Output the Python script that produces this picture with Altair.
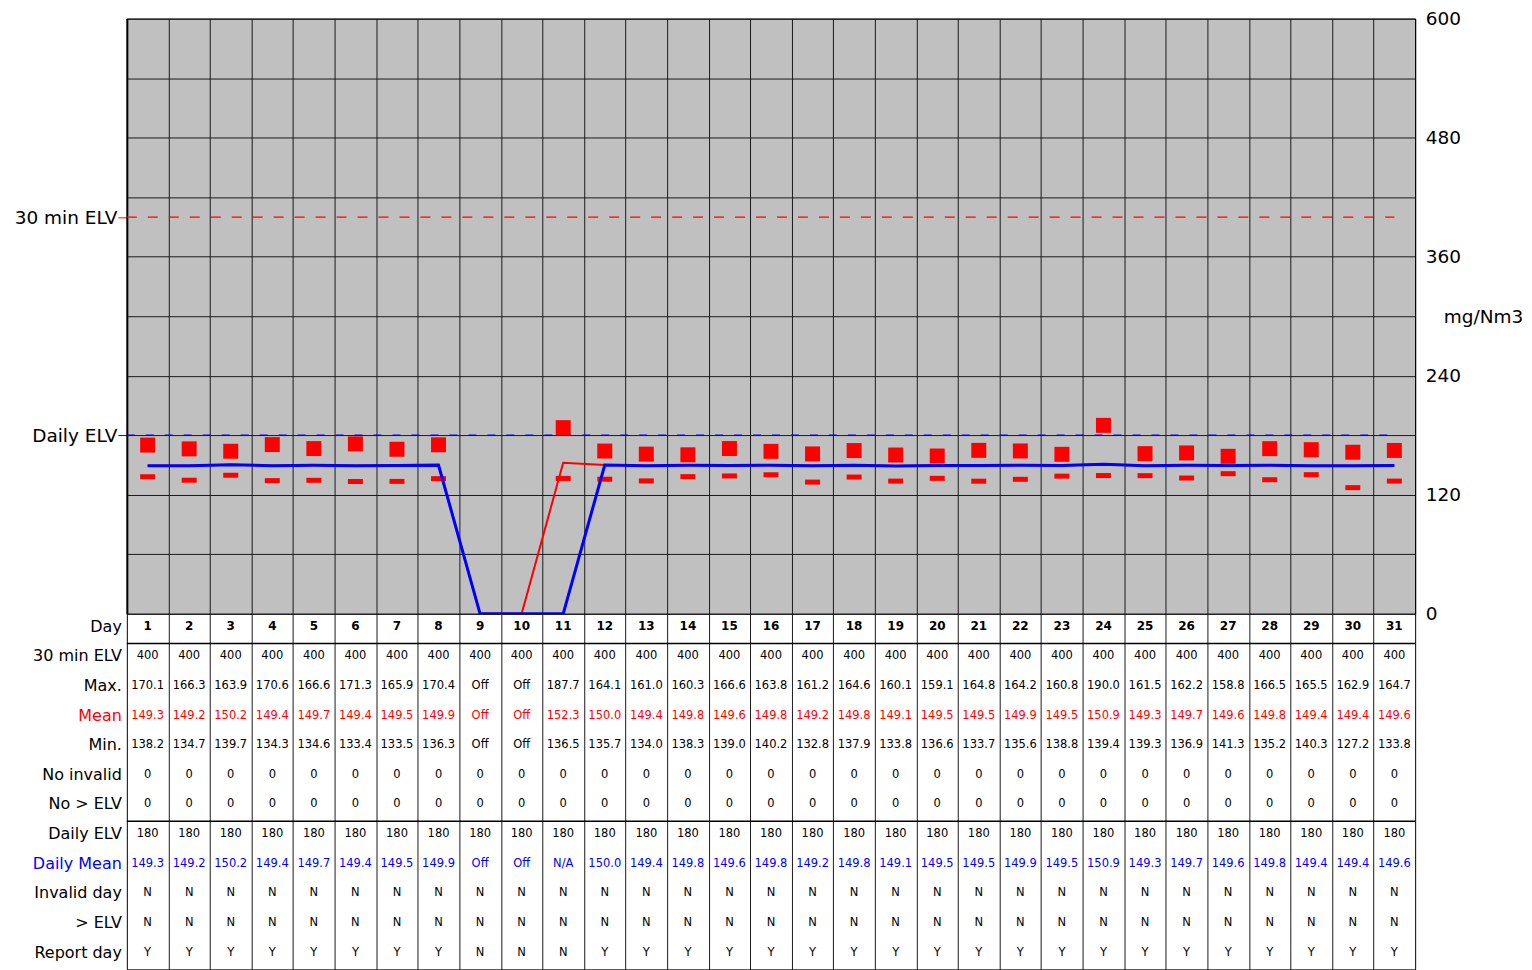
import altair as alt
import pandas as pd

days = list(range(1, 32))
row_names = ["Day", "30 min ELV", "Max.", "Mean", "Min.", "No invalid", "No > ELV",
             "Daily ELV", "Daily Mean", "Invalid day", "> ELV", "Report day"]
elv_30min = [400] * 31
daily_elv = [180] * 31
max_vals = ["170.1", "166.3", "163.9", "170.6", "166.6", "171.3", "165.9", "170.4", "Off", "Off",
            "187.7", "164.1", "161.0", "160.3", "166.6", "163.8", "161.2", "164.6", "160.1", "159.1",
            "164.8", "164.2", "160.8", "190.0", "161.5", "162.2", "158.8", "166.5", "165.5", "162.9", "164.7"]
mean_vals = ["149.3", "149.2", "150.2", "149.4", "149.7", "149.4", "149.5", "149.9", "Off", "Off",
             "152.3", "150.0", "149.4", "149.8", "149.6", "149.8", "149.2", "149.8", "149.1", "149.5",
             "149.5", "149.9", "149.5", "150.9", "149.3", "149.7", "149.6", "149.8", "149.4", "149.4", "149.6"]
min_vals = ["138.2", "134.7", "139.7", "134.3", "134.6", "133.4", "133.5", "136.3", "Off", "Off",
            "136.5", "135.7", "134.0", "138.3", "139.0", "140.2", "132.8", "137.9", "133.8", "136.6",
            "133.7", "135.6", "138.8", "139.4", "139.3", "136.9", "141.3", "135.2", "140.3", "127.2", "133.8"]
daily_mean_vals = ["149.3", "149.2", "150.2", "149.4", "149.7", "149.4", "149.5", "149.9", "Off", "Off",
                   "N/A", "150.0", "149.4", "149.8", "149.6", "149.8", "149.2", "149.8", "149.1", "149.5",
                   "149.5", "149.9", "149.5", "150.9", "149.3", "149.7", "149.6", "149.8", "149.4", "149.4", "149.6"]
no_invalid = [0] * 31
no_over_elv = [0] * 31
invalid_day = ["N"] * 31
over_elv_day = ["N"] * 31
report_day = ["Y"] * 8 + ["N"] * 3 + ["Y"] * 20
y_label_values = [0, 120, 240, 360, 480, 600]
y_grid_values = [0, 60, 120, 180, 240, 300, 360, 420, 480, 540, 600]


def num(v):
    return None if v in ("Off", "N/A") else float(v)


def line_num(v):
    return 0.0 if v in ("Off", "N/A") else float(v)


df = pd.DataFrame({
    "day": days,
    "max": [num(v) for v in max_vals],
    "min": [num(v) for v in min_vals],
    "mean": [line_num(v) for v in mean_vals],
    "daily_mean": [line_num(v) for v in daily_mean_vals],
    "elv30": elv_30min,
    "elvd": daily_elv,
})

FONT = "DejaVu Sans"
W = 1290
H_TOP = 596
H_TAB = 356
GRID = "#1a1a1a"
X_MIN, X_MAX = days[0] - 0.5, days[-1] + 0.5

xscale = alt.Scale(domain=[X_MIN, X_MAX], nice=False, zero=False)
col_edges = [d + 0.5 for d in days[:-1]]
xaxis = alt.Axis(values=col_edges, grid=True, gridColor=GRID, gridOpacity=1, gridWidth=1,
                 labels=False, ticks=False, domain=False, title=None)
xenc = alt.X("day:Q", scale=xscale, axis=xaxis)
yscale = alt.Scale(domain=[0, 600], nice=False, zero=True)

left_axis = alt.Axis(
    orient="left", values=[180, 400],
    labelExpr=f"datum.value == 400 ? '{row_names[1]}' : '{row_names[7]}'",
    labelFontSize=18.5, labelColor="black", labelFont=FONT, labelPadding=1,
    tickSize=9, tickWidth=1,
    tickColor={"condition": {"test": "datum.value == 400", "value": "red"}, "value": "blue"},
    domain=True, domainColor="black", domainWidth=2, grid=False, title=None,
)
label_test = "indexof([" + ",".join(str(v) for v in y_label_values) + "], datum.value) >= 0"
right_axis = alt.Axis(
    orient="right", values=y_grid_values,
    labelExpr=f"{label_test} ? datum.label : ''",
    labelFontSize=18.5, labelColor="black", labelFont=FONT, labelPadding=10,
    ticks=False, tickSize=0, domain=True, domainColor="black", domainWidth=1,
    grid=True, gridColor=GRID, gridOpacity=1, gridWidth=1,
    title="mg/Nm3", titleAngle=0, titleFontSize=18.5, titleFontWeight="normal",
    titleFont=FONT, titleColor="black", titleX=68, titleY=H_TOP / 2,
    titleAlign="center", titleBaseline="middle",
)

base = alt.Chart(df)
rule_x = alt.X(datum=X_MIN, scale=xscale, axis=xaxis)
rule_x2 = alt.X2(datum=days[-1])
elv30_line = base.transform_aggregate(elv30="max(elv30)").mark_rule(
    color="red", strokeWidth=1.2, strokeDash=[10, 11]).encode(
    x=rule_x, x2=rule_x2, y=alt.Y("elv30:Q", scale=yscale, axis=left_axis))
elvd_line = base.transform_aggregate(elvd="max(elvd)").mark_rule(
    color="blue", strokeWidth=1.5, strokeDash=[8, 11]).encode(
    x=rule_x, x2=rule_x2, y=alt.Y("elvd:Q", scale=yscale, axis=None))
max_pts = base.mark_square(size=225, color="red", opacity=1).encode(
    x=xenc, y=alt.Y("max:Q", scale=yscale, axis=None))
min_pts = base.mark_tick(color="red", orient="horizontal", thickness=5, size=15, opacity=1).encode(
    x=xenc, y=alt.Y("min:Q", scale=yscale, axis=None))
mean_line = base.mark_line(color="red", strokeWidth=2).encode(
    x=xenc, y=alt.Y("mean:Q", scale=yscale, axis=None))
dmean_line = base.mark_line(color="blue", strokeWidth=3).encode(
    x=xenc, y=alt.Y("daily_mean:Q", scale=yscale, axis=right_axis))

top = alt.layer(elv30_line, elvd_line, max_pts, min_pts, mean_line, dmean_line).resolve_axis(
    y="independent").properties(
    width=W, height=H_TOP,
    view=alt.ViewBackground(fill="#c0c0c0", stroke="black", strokeWidth=1))

# ---- table ----
row_values = {
    "Day": [str(d) for d in days],
    "30 min ELV": [str(v) for v in elv_30min],
    "Max.": max_vals,
    "Mean": mean_vals,
    "Min.": min_vals,
    "No invalid": [str(v) for v in no_invalid],
    "No > ELV": [str(v) for v in no_over_elv],
    "Daily ELV": [str(v) for v in daily_elv],
    "Daily Mean": daily_mean_vals,
    "Invalid day": invalid_day,
    "> ELV": over_elv_day,
    "Report day": report_day,
}
kind_of = {"Mean": "mean", "Daily Mean": "dmean"}
recs = []
for r in row_names:
    for d, t in zip(days, row_values[r]):
        recs.append({"day": d, "row": r, "text": t, "kind": kind_of.get(r, "plain"),
                     "bold": r == "Day"})
tdf = pd.DataFrame(recs)
ldf = pd.DataFrame({"row": row_names, "kind": [kind_of.get(r, "plain") for r in row_names]})
sdf = pd.DataFrame({"row": [row_names[0], row_names[6]]})

tscale = alt.Scale(domain=row_names, paddingInner=0, paddingOuter=0)
ytab = alt.Y("row:N", scale=tscale, axis=None)
cscale = alt.Scale(domain=["plain", "mean", "dmean"], range=["black", "red", "blue"])
xtab = alt.X("day:Q", scale=xscale, axis=xaxis)

cells = alt.Chart(tdf).transform_filter("!datum.bold").mark_text(
    fontSize=11.5, font=FONT, baseline="middle", dy=-2).encode(
    x=xtab, y=ytab, text="text:N", color=alt.Color("kind:N", scale=cscale, legend=None))
day_cells = alt.Chart(tdf).transform_filter("datum.bold").mark_text(
    fontSize=12, font=FONT, fontWeight="bold", baseline="middle", dy=-3).encode(
    x=xtab, y=ytab, text="text:N")
labels = alt.Chart(ldf).mark_text(fontSize=16, font=FONT, align="right", baseline="middle", dy=-2).encode(
    x=alt.value(-5), y=ytab, text="row:N", color=alt.Color("kind:N", scale=cscale, legend=None))
seps = alt.Chart(sdf).mark_rule(color="black", strokeWidth=1.5).encode(
    y=alt.Y("row:N", bandPosition=1, scale=tscale, axis=None))

table = alt.layer(seps, cells, day_cells, labels).properties(
    width=W, height=H_TAB,
    view=alt.ViewBackground(fill="white", stroke="black", strokeWidth=1))

chart = alt.vconcat(top, table, spacing=0, bounds="flush").properties(
    padding={"left": 5, "top": 0, "right": 0, "bottom": 0}
).configure(font=FONT)

chart.save("out.html", embed_options={"renderer": "svg", "actions": False})
